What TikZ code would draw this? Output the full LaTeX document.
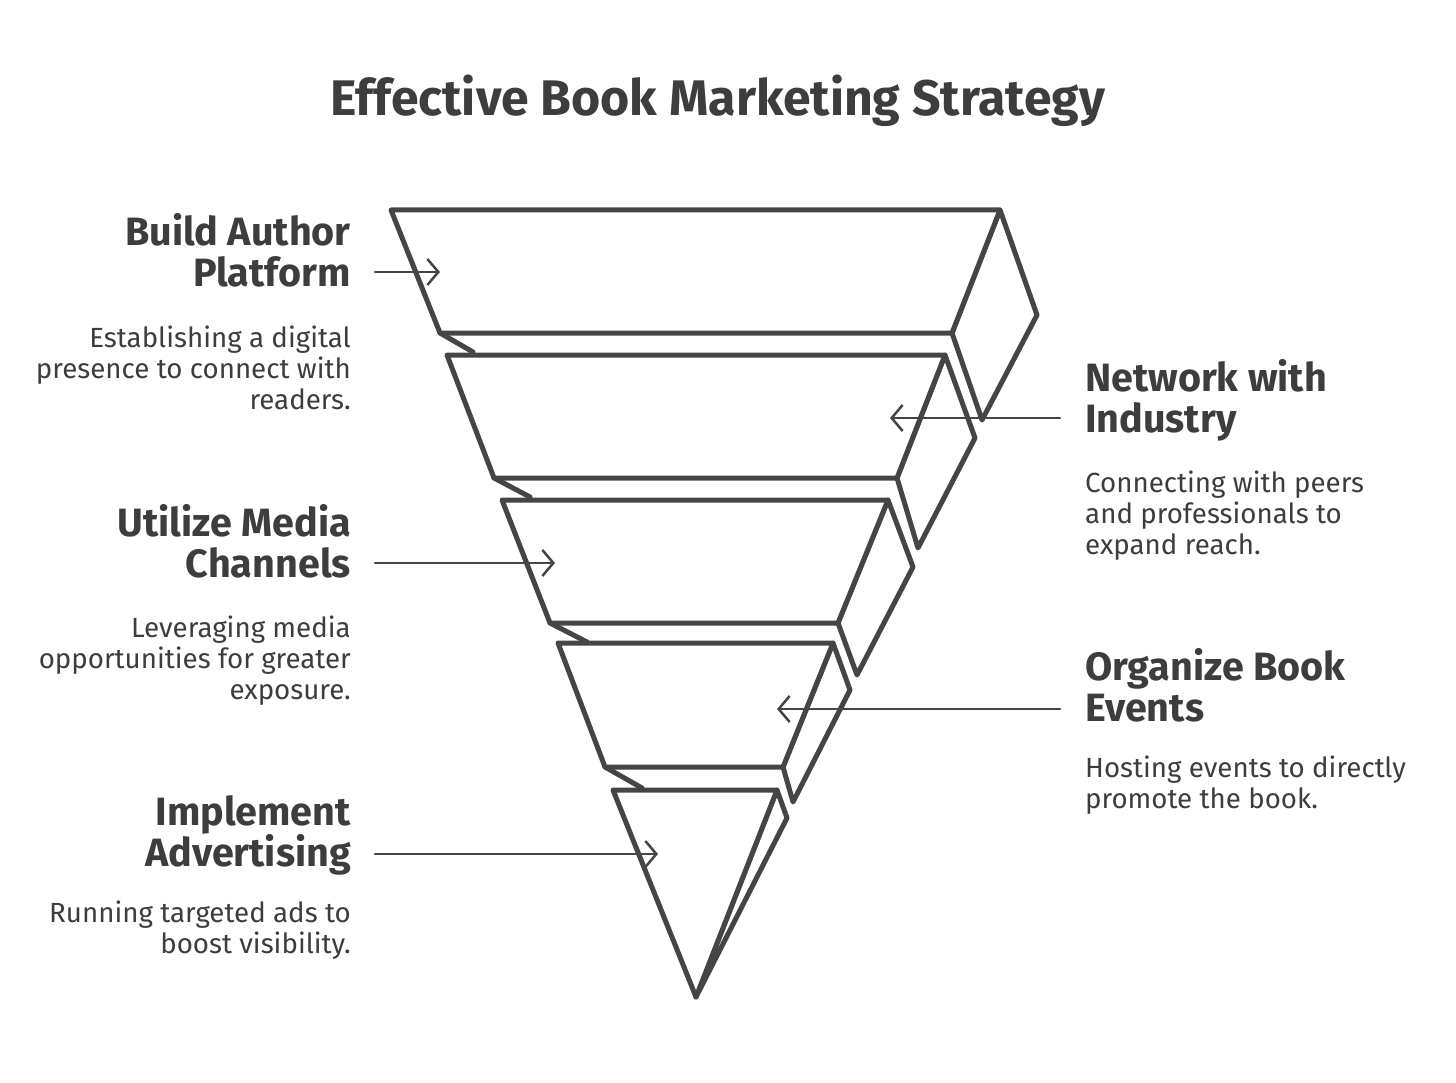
\documentclass[tikz,border=0pt]{standalone}
\usepackage{fontspec}
\setmainfont{Fira Sans}
\usetikzlibrary{arrows.meta}
\definecolor{ink}{HTML}{454545}
\definecolor{txt}{HTML}{3D3D3D}
\begin{document}
\begin{tikzpicture}[x=1pt,y=-1pt,
 seg/.style={draw=ink,line width=5pt,line join=round,fill=white},
 lip/.style={draw=ink,line width=5pt,line cap=round},
 conn/.style={draw=ink,line width=2.5pt,line cap=round,-{Straight Barb[length=11pt,width=26pt]}},
 head/.style={inner sep=0pt,text=txt,font=\fontsize{39.5}{41}\selectfont\bfseries},
 desc/.style={inner sep=0pt,text=txt,font=\fontsize{27.7}{31}\selectfont},
 ttl/.style={inner sep=0pt,text=txt,font=\fontsize{50}{55}\selectfont\bfseries}
]
\useasboundingbox[fill=white] (0,0) rectangle (1456,1083);

% title
\node[ttl,anchor=base] (title) at (718,116) {Effective Book Marketing Strategy};

% funnel segment 1
\draw[seg] (1000,210) -- (1037,315) -- (982,420) -- (952,333) -- cycle;
\draw[seg] (391,210) -- (1000,210) -- (952,333) -- (440,333) -- cycle;
\draw[lip] (440,333) -- (473,352);
% segment 2
\draw[seg] (945,355) -- (975,438) -- (918,548) -- (897,478) -- cycle;
\draw[seg] (447,355) -- (945,355) -- (897,478) -- (494,478) -- cycle;
\draw[lip] (494,478) -- (530,497);
% segment 3
\draw[seg] (888,500) -- (913,567) -- (857,675) -- (838,623) -- cycle;
\draw[seg] (502,500) -- (888,500) -- (838,623) -- (550,623) -- cycle;
\draw[lip] (550,623) -- (587,642);
% segment 4
\draw[seg] (833,643) -- (850,690) -- (793,802) -- (783,767) -- cycle;
\draw[seg] (558,643) -- (833,643) -- (783,767) -- (605,767) -- cycle;
\draw[lip] (605,767) -- (642,788);
% segment 5
\draw[seg] (777,790) -- (787,818) -- (696,997) -- cycle;
\draw[seg] (613,790) -- (777,790) -- (696,997) -- cycle;

% left texts (anchor = baseline of last line)
\node[head,align=right,anchor=base east] (h1) at (351,287) {Build Author\\Platform};
\node[desc,align=right,anchor=base east] (d1) at (351,409) {Establishing a digital\\presence to connect with\\readers.};
\node[head,align=right,anchor=base east] (h3) at (351,577) {Utilize Media\\Channels};
\node[desc,align=right,anchor=base east] (d3) at (351,699) {Leveraging media\\opportunities for greater\\exposure.};
\node[head,align=right,anchor=base east] (h5) at (351,866) {Implement\\Advertising};
\node[desc,align=right,anchor=base east] (d5) at (351,953) {Running targeted ads to\\boost visibility.};

% right texts
\node[head,align=left,anchor=base west] (h2) at (1085,432) {Network with\\Industry};
\node[desc,align=left,anchor=base west] (d2) at (1085,554) {Connecting with peers\\and professionals to\\expand reach.};
\node[head,align=left,anchor=base west] (h4) at (1085,721) {Organize Book\\Events};
\node[desc,align=left,anchor=base west] (d4) at (1085,808) {Hosting events to directly\\promote the book.};

% connectors
\coordinate (a1s) at (375,272); \coordinate (a1e) at (440,272);
\coordinate (a2s) at (1060,418); \coordinate (a2e) at (890,418);
\coordinate (a3s) at (375,563); \coordinate (a3e) at (555,563);
\coordinate (a4s) at (1060,709); \coordinate (a4e) at (777,709);
\coordinate (a5s) at (375,854); \coordinate (a5e) at (658,854);
\draw[conn] (a1s) -- (a1e);
\draw[conn] (a2s) -- (a2e);
\draw[conn] (a3s) -- (a3e);
\draw[conn] (a4s) -- (a4e);
\draw[conn] (a5s) -- (a5e);
\end{tikzpicture}
\end{document}
